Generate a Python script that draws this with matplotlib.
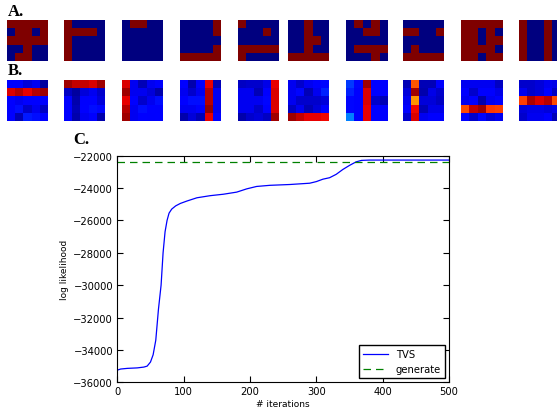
import numpy as np
import matplotlib
matplotlib.use('Agg')
import matplotlib.pyplot as plt

# row A: binary 5x5 patterns (1 = red)
tiles_a = [
    [[1, 1, 1, 1, 1], [0, 1, 1, 0, 1], [1, 1, 1, 1, 1], [0, 0, 1, 0, 0], [0, 1, 1, 0, 0]],
    [[1, 0, 0, 0, 0], [1, 1, 1, 1, 0], [1, 0, 0, 0, 0], [1, 0, 0, 0, 0], [1, 0, 0, 0, 0]],
    [[0, 1, 1, 0, 0], [0, 0, 0, 0, 0], [0, 0, 0, 0, 0], [0, 0, 0, 0, 0], [0, 0, 0, 0, 0]],
    [[0, 0, 0, 0, 1], [0, 0, 0, 0, 1], [0, 0, 0, 0, 0], [0, 0, 0, 0, 1], [1, 1, 1, 1, 1]],
    [[1, 0, 0, 0, 0], [0, 0, 0, 1, 0], [0, 0, 0, 0, 0], [1, 1, 1, 1, 1], [1, 0, 0, 0, 0]],
    [[0, 0, 1, 0, 0], [0, 0, 1, 0, 0], [0, 0, 1, 1, 0], [0, 0, 1, 0, 0], [1, 1, 1, 1, 1]],
    [[0, 1, 0, 1, 0], [0, 0, 1, 1, 0], [0, 0, 0, 0, 0], [0, 1, 1, 1, 1], [0, 0, 0, 1, 0]],
    [[0, 0, 0, 0, 0], [1, 1, 0, 0, 1], [0, 0, 0, 0, 0], [0, 1, 0, 0, 0], [1, 1, 1, 1, 1]],
    [[1, 1, 1, 1, 1], [1, 1, 0, 1, 0], [1, 1, 0, 1, 1], [1, 1, 1, 1, 0], [1, 1, 0, 1, 1]],
    [[1, 0, 0, 1, 0], [1, 0, 0, 1, 0], [1, 0, 0, 1, 0], [1, 0, 0, 1, 0], [1, 0, 0, 1, 0]],
]

# row B: learned features (values on 0..1, jet colormap)
tiles_b = [
    [[0.12, 0.11, 0.08, 0.10, 0.03], [0.92, 0.95, 0.91, 0.95, 0.97], [0.12, 0.10, 0.12, 0.12, 0.11],
     [0.12, 0.14, 0.07, 0.10, 0.06], [0.12, 0.05, 0.15, 0.14, 0.12]],
    [[0.97, 0.94, 0.94, 0.92, 0.97], [0.06, 0.03, 0.08, 0.10, 0.07], [0.11, 0.04, 0.11, 0.12, 0.08],
     [0.12, 0.05, 0.12, 0.14, 0.13], [0.12, 0.04, 0.10, 0.11, 0.04]],
    [[0.92, 0.10, 0.05, 0.10, 0.11], [0.97, 0.10, 0.10, 0.08, 0.04], [0.91, 0.12, 0.07, 0.10, 0.14],
     [0.95, 0.10, 0.14, 0.12, 0.11], [0.97, 0.10, 0.12, 0.11, 0.12]],
    [[0.12, 0.04, 0.12, 0.91, 0.05], [0.10, 0.07, 0.10, 0.95, 0.10], [0.12, 0.14, 0.14, 0.95, 0.10],
     [0.10, 0.10, 0.12, 0.98, 0.10], [0.04, 0.08, 0.05, 0.91, 0.12]],
    [[0.06, 0.07, 0.07, 0.09, 0.91], [0.10, 0.10, 0.05, 0.12, 0.92], [0.10, 0.10, 0.10, 0.13, 0.92],
     [0.10, 0.10, 0.07, 0.12, 0.92], [0.04, 0.07, 0.08, 0.06, 0.97]],
    [[0.10, 0.07, 0.10, 0.12, 0.13], [0.10, 0.13, 0.05, 0.10, 0.16], [0.10, 0.07, 0.07, 0.07, 0.08],
     [0.06, 0.10, 0.05, 0.08, 0.12], [0.97, 0.94, 0.91, 0.91, 0.90]],
    [[0.18, 0.13, 0.97, 0.12, 0.12], [0.16, 0.12, 0.92, 0.12, 0.12], [0.13, 0.12, 0.92, 0.07, 0.05],
     [0.13, 0.12, 0.91, 0.12, 0.12], [0.25, 0.12, 0.91, 0.12, 0.12]],
    [[0.05, 0.82, 0.05, 0.05, 0.12], [0.08, 0.97, 0.04, 0.09, 0.07], [0.10, 0.75, 0.08, 0.08, 0.06],
     [0.12, 0.90, 0.05, 0.09, 0.09], [0.07, 0.92, 0.10, 0.12, 0.12]],
    [[0.10, 0.10, 0.10, 0.10, 0.06], [0.12, 0.07, 0.12, 0.12, 0.09], [0.10, 0.12, 0.04, 0.10, 0.12],
     [0.83, 0.94, 0.97, 0.85, 0.84], [0.12, 0.07, 0.13, 0.08, 0.10]],
    [[0.07, 0.07, 0.08, 0.10, 0.09], [0.10, 0.07, 0.08, 0.12, 0.06], [0.84, 0.96, 0.92, 0.95, 0.83],
     [0.08, 0.09, 0.09, 0.08, 0.09], [0.07, 0.10, 0.10, 0.12, 0.05]],
]

# panel C: log likelihood over iterations
iters = [0, 5, 15, 30, 40, 45, 50, 54, 58, 62, 66, 69, 72, 75, 78, 82, 88, 95, 105,
         120, 140, 160, 180, 195, 210, 230, 260, 290, 300, 310, 320, 330, 340, 350,
         360, 368, 380, 420, 460, 500]
tvs = [-35250, -35180, -35140, -35110, -35060, -35000, -34750, -34300, -33400, -31500,
       -30000, -28000, -26700, -26000, -25550, -25300, -25100, -24950, -24800,
       -24600, -24470, -24380, -24250, -24050, -23900, -23830, -23780, -23700,
       -23600, -23450, -23360, -23150, -22850, -22600, -22380, -22290, -22270,
       -22270, -22270, -22270]
generate_ll = -22420

W, H = 557.0, 410.0
fig = plt.figure(figsize=(W / 100, H / 100), dpi=100)

tile_x = [7.3, 64.3, 122.3, 180, 237.7, 288.3, 345.7, 403.3, 460.7, 518.7]
tile_w = 41.0


def add_tile(x, y, data):
    ax = fig.add_axes([x / W, 1 - (y + tile_w) / H, tile_w / W, tile_w / H])
    ax.imshow(np.array(data), cmap='jet', vmin=0, vmax=1, interpolation='nearest')
    ax.axis('off')


for x, t in zip(tile_x, tiles_a):
    add_tile(x, 21.0, t)
for x, t in zip(tile_x, tiles_b):
    add_tile(x, 81.0, t)

label_kw = dict(fontsize=12, fontweight='bold', family='Liberation Serif', va='top')
fig.text(8 / W, 1 - 4 / H, 'A.', **label_kw)
fig.text(8 / W, 1 - 63 / H, 'B.', **label_kw)
fig.text(73 / W, 1 - 132 / H, 'C.', **label_kw)

ax = fig.add_axes([117.3 / W, 1 - 383.3 / H, (449 - 117.3) / W, (383.3 - 156.7) / H])
ax.plot(iters, tvs, color='b', lw=0.9, label='TVS')
ax.axhline(generate_ll, color='g', ls='--', lw=0.9, dashes=(6, 4), label='generate')
ax.set_xlim(0, 500)
ax.set_ylim(-36000, -22000)
ax.set_xticks(np.arange(0, 501, 100))
ax.set_yticks(np.arange(-36000, -21999, 2000))
ax.tick_params(direction='in', top=True, right=True, labelsize=7.2, length=4, pad=3)
ax.set_xlabel('# iterations', fontsize=6.5, labelpad=2)
ax.set_ylabel('log likelihood', fontsize=6.5, labelpad=3)
ax.legend(loc='lower right', fontsize=7.2, fancybox=False, edgecolor='k',
          framealpha=1, borderaxespad=0.4, handlelength=2.5)

fig.savefig('out.png', dpi=100)
